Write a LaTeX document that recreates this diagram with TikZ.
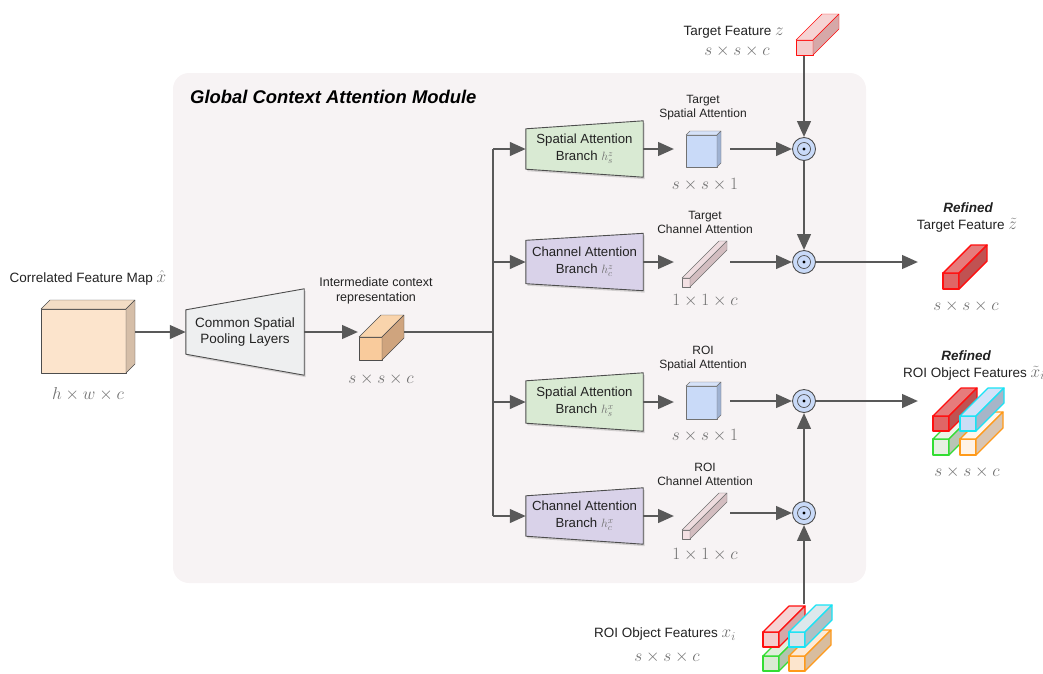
\documentclass[tikz,border=0pt]{standalone}
\usepackage[no-math]{fontspec}
\setmainfont{Liberation Sans}
\usetikzlibrary{arrows.meta,shadows,calc}
\pgfdeclarelayer{panel}
\pgfdeclarelayer{shapes}
\pgfsetlayers{panel,shapes,main}

\definecolor{ink}{HTML}{222222}
\definecolor{linegray}{HTML}{595959}
\definecolor{edgegray}{HTML}{4D4D4D}
\definecolor{dimgray}{HTML}{707070}
\definecolor{panelfill}{HTML}{F7F3F4}
\definecolor{poolfill}{HTML}{EEEFF0}
\definecolor{spfill}{HTML}{D9EAD3}
\definecolor{chfill}{HTML}{D9D2E9}
\definecolor{circblue}{HTML}{C9DAF8}

% cuboid faces: front / top / side
\definecolor{mapF}{HTML}{FCE4CC}\definecolor{mapT}{HTML}{F3DDC5}\definecolor{mapS}{HTML}{D5BEA8}
\definecolor{ctxF}{HTML}{F9CB9C}\definecolor{ctxT}{HTML}{F9D4AC}\definecolor{ctxS}{HTML}{CFA47E}
\definecolor{spaF}{HTML}{C9DAF8}\definecolor{spaT}{HTML}{D6E2F8}\definecolor{spaS}{HTML}{9FB2D2}
\definecolor{rodF}{HTML}{F4E1E4}\definecolor{rodT}{HTML}{EEDCDF}\definecolor{rodS}{HTML}{D3BDC0}
\definecolor{redE}{HTML}{FF1010}\definecolor{cyanE}{HTML}{19E3F5}
\definecolor{greenE}{HTML}{33DD33}\definecolor{orangeE}{HTML}{FF9A1A}
\definecolor{inRedF}{HTML}{F4CCCC}\definecolor{inRedT}{HTML}{F6D4D4}\definecolor{inRedS}{HTML}{D6A8A8}
\definecolor{inCyF}{HTML}{D5E4EA}\definecolor{inCyT}{HTML}{DCE8EC}\definecolor{inCyS}{HTML}{AFC0C4}
\definecolor{inGrF}{HTML}{D9EAD3}\definecolor{inGrT}{HTML}{E0EEDB}\definecolor{inGrS}{HTML}{B3C4AE}
\definecolor{inOrF}{HTML}{FCE5CD}\definecolor{inOrT}{HTML}{FDEAD6}\definecolor{inOrS}{HTML}{D8BD9F}
\definecolor{rfRedF}{HTML}{E06666}\definecolor{rfRedT}{HTML}{E67C7C}\definecolor{rfRedS}{HTML}{C05252}
\definecolor{rfCyF}{HTML}{CCDDF5}\definecolor{rfCyT}{HTML}{D3E2F8}\definecolor{rfCyS}{HTML}{A7B5C8}
\definecolor{rfGrF}{HTML}{E6F0E2}\definecolor{rfGrT}{HTML}{EBF3E8}\definecolor{rfGrS}{HTML}{B9C5B5}
\definecolor{rfOrF}{HTML}{FFF3E6}\definecolor{rfOrT}{HTML}{FFF6EC}\definecolor{rfOrS}{HTML}{D8C5B3}

% #1,#2 top-left corner of the front face, #3 width, #4 height, #5 depth,
% #6 front fill, #7 top fill, #8 side fill, #9 edge colour
\newcommand\prism[9]{%
  \filldraw[fill=#6,draw=#9,line join=round] (#1,#2) rectangle ++(#3,#4);
  \filldraw[fill=#7,draw=#9,line join=round] (#1,#2) -- ++(#5,-#5) -- ++(#3,0) -- ++(-#5,#5) -- cycle;
  \filldraw[fill=#8,draw=#9,line join=round] (#1+#3,#2) -- ++(#5,-#5) -- ++(0,#4) -- ++(-#5,#5) -- cycle;
}
% trapezoid behind a named text node, right side taller by #3 above and below
\newcommand\trapez[3]{%
  \begin{pgfonlayer}{shapes}
  \filldraw[fill=#2,draw=edgegray,line width=0.9pt,line join=round,
    drop shadow={shadow xshift=1.5pt,shadow yshift=-2pt,opacity=0.3}]
    (#1.north west) -- ([yshift=#3]#1.north east) -- ([yshift=-#3]#1.south east)
    -- (#1.south west) -- cycle;
  \end{pgfonlayer}}
\newcommand\dimtxt[1]{\textcolor{dimgray}{$#1$}}
\newcommand\lblmath[1]{{\fontsize{17}{16}\selectfont\textcolor{dimgray}{$#1$}}}

\begin{document}
\begin{tikzpicture}[x=1pt,y=-1pt,
  lbl/.style={font=\fontsize{13.5}{16}\selectfont, text=ink, align=center, inner sep=0pt},
  small/.style={font=\fontsize{12}{14}\selectfont, text=ink, align=center, inner sep=0pt},
  dimlbl/.style={font=\fontsize{16.5}{18}\selectfont, inner sep=0pt},
  trapbox/.style={rectangle, inner sep=0pt, align=center, text=ink,
    font=\fontsize{13.2}{17}\selectfont, minimum width=117pt},
  arr/.style={draw=linegray, line width=2.8pt, -{Triangle[length=16pt,width=13.5pt]}},
  wire/.style={draw=linegray, line width=2.8pt},
  odot/.style={circle, draw=edgegray, fill=circblue, line width=0.9pt,
    minimum size=23pt, inner sep=0pt,
    path picture={\draw[edgegray,line width=0.7pt] (path picture bounding box.center) circle (6.5pt);
                  \fill[black] (path picture bounding box.center) circle (1.6pt);}}]

\useasboundingbox (0,0) rectangle (1043,673);

% module panel
\begin{pgfonlayer}{panel}
  \fill[panelfill, rounded corners=16pt] (173,73) rectangle (866,583);
\end{pgfonlayer}
\node[anchor=west, inner sep=0pt, font=\fontsize{18.4}{20}\selectfont\bfseries\itshape, text=black]
  (title) at (190,97) {Global Context Attention Module};

% input feature map
\node[lbl] (fmlabel) at (88,278) {Correlated Feature Map \lblmath{\hat{x}}};
\prism{41}{309}{85}{64}{9}{mapF}{mapT}{mapS}{edgegray}
\coordinate (fmout) at (135,332);
\node[dimlbl] (fmdim) at (88,394) {\dimtxt{h\times w\times c}};

% common pooling
\node[trapbox, font=\fontsize{13.5}{16}\selectfont, minimum width=118pt, minimum height=44pt] (pool) at (245,332) {Common Spatial\\Pooling Layers};
\trapez{pool}{poolfill}{21pt}
\draw[arr] (fmout) -- (pool.west);

% intermediate context
\node[lbl, font=\fontsize{12.5}{15}\selectfont] (ctxlabel) at (376,291) {Intermediate context\\representation};
\prism{359}{337}{23}{23}{22}{ctxF}{ctxT}{ctxS}{edgegray}
\coordinate (ctxin) at (358,332);
\coordinate (ctxout) at (404,332);
\node[dimlbl] (ctxdim) at (381,379) {\dimtxt{s\times s\times c}};
\draw[arr] (pool.east) -- (ctxin);
\coordinate (split) at (493,332);
\draw[wire] (ctxout) -- (split);

% branches
\node[trapbox, minimum height=40pt] (sa1) at (584.5,149) {Spatial Attention\\Branch \textcolor{dimgray}{$h_s^z$}};
\trapez{sa1}{spfill}{8pt}
\node[trapbox, minimum height=43pt] (ca1) at (584.5,262) {Channel Attention\\Branch \textcolor{dimgray}{$h_c^z$}};
\trapez{ca1}{chfill}{7pt}
\node[trapbox, minimum height=42pt] (sa2) at (584.5,402) {Spatial Attention\\Branch \textcolor{dimgray}{$h_s^x$}};
\trapez{sa2}{spfill}{8pt}
\node[trapbox, minimum height=40pt] (ca2) at (584.5,516) {Channel Attention\\Branch \textcolor{dimgray}{$h_c^x$}};
\trapez{ca2}{chfill}{8pt}
\draw[wire] (split |- sa1.west) -- (split |- ca2.west);
\draw[arr] (split |- sa1.west) -- (sa1.west);
\draw[arr] (split |- ca1.west) -- (ca1.west);
\draw[arr] (split |- sa2.west) -- (sa2.west);
\draw[arr] (split |- ca2.west) -- (ca2.west);

% attention maps
\node[small] (t1label) at (703,108) {Target\\Spatial Attention};
\prism{686}{135}{31}{32}{4}{spaF}{spaT}{spaS}{edgegray!80}
\node[dimlbl] (t1dim) at (705,185) {\dimtxt{s\times s\times 1}};
\coordinate (sp1in) at (674,149);
\coordinate (sp1out) at (730,149);

\node[small] (t2label) at (705,222) {Target\\Channel Attention};
\prism{682}{278}{8}{9}{37}{rodF}{rodT}{rodS}{edgegray!80}
\node[dimlbl] (t2dim) at (705,301) {\dimtxt{1\times 1\times c}};
\coordinate (ch1in) at (674,262);
\coordinate (ch1out) at (730,262);

\node[small] (r1label) at (703,359) {ROI\\Spatial Attention};
\prism{686}{386}{31}{33}{4}{spaF}{spaT}{spaS}{edgegray!80}
\node[dimlbl] (r1dim) at (705,436) {\dimtxt{s\times s\times 1}};
\coordinate (sp2in) at (674,402);
\coordinate (sp2out) at (730,401);

\node[small] (r2label) at (705,474) {ROI\\Channel Attention};
\prism{682}{530}{8}{9}{37}{rodF}{rodT}{rodS}{edgegray!80}
\node[dimlbl] (r2dim) at (705,555) {\dimtxt{1\times 1\times c}};
\coordinate (ch2in) at (674,516);
\coordinate (ch2out) at (730,513);

\draw[arr] (sa1.east |- sp1in) -- (sp1in);
\draw[arr] (ca1.east |- ch1in) -- (ch1in);
\draw[arr] (sa2.east |- sp2in) -- (sp2in);
\draw[arr] (ca2.east |- ch2in) -- (ch2in);

% element-wise products
\node[odot] (c1) at (804,149) {};
\node[odot] (c2) at (804,262) {};
\node[odot] (c3) at (804,401) {};
\node[odot] (c4) at (804,513) {};
\draw[arr] (sp1out) -- (c1.west);
\draw[arr] (ch1out) -- (c2.west);
\draw[arr] (sp2out) -- (c3.west);
\draw[arr] (ch2out) -- (c4.west);

% target feature input
\node[lbl, anchor=east] (zlabel) at (784,32) {Target Feature \lblmath{z}};
\node[dimlbl] (zdim) at (737,51) {\dimtxt{s\times s\times c}};
\coordinate (zin) at (804,56);
\draw[arr] (zin) -- (c1.north);
\prism{796}{40}{17}{15}{26}{inRedF}{inRedT}{inRedS}{redE}
\draw[arr] (c1.south) -- (c2.north);

% refined target feature
\coordinate (trefin) at (918,262);
\draw[arr] (c2.east) -- (trefin);
\node[lbl, font=\fontsize{13.5}{16}\selectfont\bfseries\itshape] (trefA) at (968,208) {Refined};
\node[lbl] (trefB) at (967,225) {Target Feature \lblmath{\tilde{z}}};
\begin{scope}[line width=1.4pt]
\prism{943}{273}{16}{16}{28}{rfRedF}{rfRedT}{rfRedS}{redE}
\end{scope}
\node[dimlbl] (trefdim) at (966,306) {\dimtxt{s\times s\times c}};

% refined ROI features
\coordinate (rrefin) at (918,401);
\draw[arr] (c3.east) -- (rrefin);
\node[lbl, font=\fontsize{13.5}{16}\selectfont\bfseries\itshape] (rrefA) at (966,356) {Refined};
\node[lbl] (rrefB) at (974,373) {ROI Object Features \lblmath{\tilde{x}_i}};
\begin{scope}[line width=1.2pt]
\prism{933}{439}{16}{16}{27}{rfGrF}{rfGrT}{rfGrS}{greenE}
\prism{960}{439}{16}{16}{27}{rfOrF}{rfOrT}{rfOrS}{orangeE}
\prism{933}{416}{16}{15}{28}{rfRedF}{rfRedT}{rfRedS}{redE}
\prism{960}{416}{16}{15}{28}{rfCyF}{rfCyT}{rfCyS}{cyanE}
\end{scope}
\node[dimlbl] (rrefdim) at (967,472) {\dimtxt{s\times s\times c}};

% ROI object features input
\coordinate (xin) at (804,604);
\draw[arr] (xin) -- (c4.south);
\draw[arr] (c4.north) -- (c3.south);
\node[lbl] (xlabel) at (665,634) {ROI Object Features \lblmath{x_i}};
\node[dimlbl] (xdim) at (667,657) {\dimtxt{s\times s\times c}};
\begin{scope}[line width=1.2pt]
\prism{763}{656}{16}{15}{26}{inGrF}{inGrT}{inGrS}{greenE}
\prism{789}{656}{16}{15}{26}{inOrF}{inOrT}{inOrS}{orangeE}
\prism{763}{632}{16}{15}{26}{inRedF}{inRedT}{inRedS}{redE}
\prism{789}{632}{16}{15}{27}{inCyF}{inCyT}{inCyS}{cyanE}
\end{scope}

\end{tikzpicture}
\end{document}
